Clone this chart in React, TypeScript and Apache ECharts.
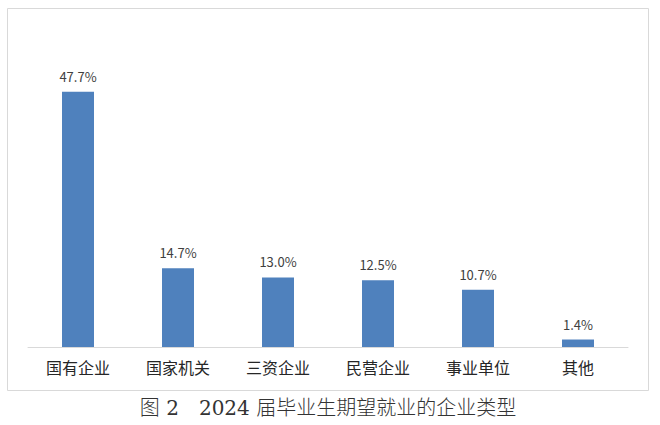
import React, { useEffect, useRef } from "react";
import * as echarts from "echarts";

const categories = ["国有企业", "国家机关", "三资企业", "民营企业", "事业单位", "其他"];
const values = [47.7, 14.7, 13.0, 12.5, 10.7, 1.4];
const caption = "图 2　2024 届毕业生期望就业的企业类型";

export default function App() {
  const ref = useRef<HTMLDivElement>(null);
  useEffect(() => {
    document.body.style.margin = "0";
    const chart = echarts.init(ref.current!, null, { renderer: "svg" });
    chart.setOption({
      animation: false,
      backgroundColor: "#ffffff",
      grid: { left: 28, right: 32, top: 26, bottom: 78, containLabel: false },
      xAxis: {
        type: "category",
        data: categories,
        axisLine: { lineStyle: { color: "#d9d9d9", width: 1 } },
        axisTick: { show: false },
        axisLabel: {
          color: "#262626",
          fontSize: 16,
          margin: 12,
          fontFamily: "Noto Sans CJK SC",
        },
      },
      yAxis: {
        type: "value",
        min: 0,
        max: 60,
        show: false,
        splitLine: { show: false },
      },
      series: [
        {
          type: "bar",
          data: values,
          barWidth: 32,
          itemStyle: { color: "#4f81bd" },
          label: {
            show: true,
            position: "top",
            distance: 9,
            formatter: (p: any) => p.value.toFixed(1) + "%",
            color: "#404040",
            fontSize: 13,
            fontFamily: "Noto Sans CJK SC",
          },
        },
      ],
      graphic: [
        {
          type: "rect",
          shape: { x: 7.5, y: 8.5, width: 641, height: 382 },
          style: { fill: "none", stroke: "#d9d9d9", lineWidth: 1 },
          silent: true,
        },
        {
          type: "text",
          x: 328,
          y: 408,
          style: {
            text: caption,
            fill: "#333333",
            fontSize: 20,
            fontWeight: 300,
            fontFamily: "DejaVu Serif, Noto Sans CJK SC",
            align: "center",
            verticalAlign: "middle",
          },
        },
      ],
    });
    return () => chart.dispose();
  }, []);
  return <div ref={ref} style={{ width: 660, height: 425 }} />;
}
